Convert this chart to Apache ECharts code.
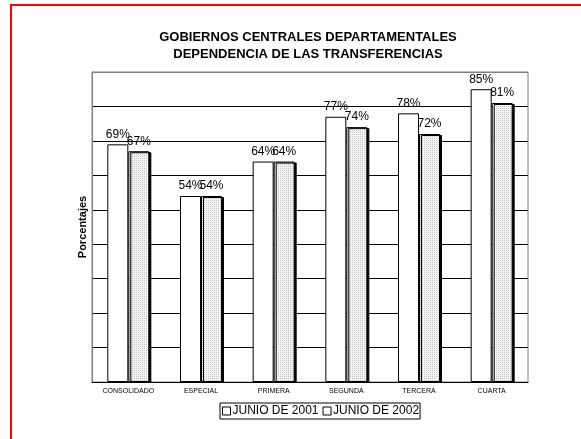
<!DOCTYPE html>
<html>
<head>
<meta charset="utf-8">
<script src="https://cdn.jsdelivr.net/npm/echarts@6/dist/echarts.min.js"></script>
<style>
  html, body { margin: 0; padding: 0; background: #fff; }
  #main { width: 581px; height: 439px; position: absolute; left: 0; top: 0; }
  #frame { position: absolute; left: 10px; top: 4px; width: 600px; height: 460px;
           border-left: 2px solid #ff0000; border-top: 2px solid #ff0000; pointer-events: none; }
</style>
</head>
<body>
<div id="main"></div>
<div id="frame"></div>
<script>
// Datos del gráfico
var categorias = ['CONSOLIDADO', 'ESPECIAL', 'PRIMERA', 'SEGUNDA', 'TERCERA', 'CUARTA'];
var junio2001 = [69, 54, 64, 77, 78, 85];
var junio2002 = [67, 54, 64, 74, 72, 81];
var series = ['JUNIO DE 2001', 'JUNIO DE 2002'];

// trama punteada para la segunda serie
var pat = document.createElement('canvas');
pat.width = 2; pat.height = 2;
var pctx = pat.getContext('2d');
pctx.fillStyle = '#f4f4f4';
pctx.fillRect(0, 0, 2, 2);
pctx.fillStyle = '#c4c4c4';
pctx.fillRect(0, 0, 1, 1);

var fuente = 'Liberation Sans, Arial, sans-serif';

var chartDom = document.getElementById('main');
var myChart = echarts.init(chartDom);
var option;

option = {
  animation: false,
  title: {
    text: 'GOBIERNOS CENTRALES DEPARTAMENTALES\nDEPENDENCIA DE LAS TRANSFERENCIAS',
    left: 308,
    top: 29,
    padding: 0,
    textAlign: 'center',
    textStyle: { fontFamily: fuente, fontSize: 13, fontWeight: 'bold', color: '#000', lineHeight: 17 }
  },
  legend: {
    data: [
      { name: series[0], itemStyle: { color: '#fff', borderColor: '#000', borderWidth: 1 } },
      { name: series[1], itemStyle: { color: '#fff', borderColor: '#000', borderWidth: 1 } }
    ],
    left: 220,
    top: 403,
    padding: [2, 1, 2, 2],
    itemGap: 4,
    itemWidth: 8,
    itemHeight: 8,
    borderColor: '#000',
    borderWidth: 1,
    icon: 'rect',
    textStyle: { fontFamily: fuente, fontSize: 12, color: '#000', padding: [0, -3, 0, -3] }
  },
  grid: {
    left: 92,
    top: 72,
    right: 53,
    bottom: 57,
    show: true,
    borderColor: '#808080',
    borderWidth: 1
  },
  xAxis: {
    type: 'category',
    data: categorias,
    axisLine: { lineStyle: { color: '#000', width: 1 } },
    axisTick: { length: 3, lineStyle: { color: '#000' } },
    axisLabel: { fontFamily: fuente, fontSize: 7, color: '#000', margin: 6 }
  },
  yAxis: {
    type: 'value',
    min: 0,
    max: 90,
    interval: 10,
    name: 'Porcentajes',
    nameLocation: 'middle',
    nameGap: 4,
    nameTextStyle: { fontFamily: fuente, fontSize: 11, fontWeight: 'bold', color: '#000' },
    axisLine: { show: true, lineStyle: { color: '#808080' } },
    axisTick: { show: false },
    axisLabel: { show: false },
    splitLine: { lineStyle: { color: ['#808080', '#000', '#000', '#000', '#000', '#000', '#000', '#000', '#000', '#808080'], width: 1 } }
  },
  series: [
    {
      name: series[0],
      type: 'bar',
      data: junio2001,
      barWidth: 21,
      barGap: '0%',
      itemStyle: { color: '#fff', borderColor: '#000', borderWidth: 1 },
      label: { show: true, position: 'top', distance: 4, formatter: '{c}%',
               fontFamily: fuente, fontSize: 12, color: '#000' }
    },
    {
      name: series[1],
      type: 'bar',
      data: junio2002,
      barWidth: 21,
      itemStyle: { color: { image: pat, repeat: 'repeat' }, borderColor: '#000', borderWidth: 1,
                   shadowColor: '#000', shadowOffsetX: 2, shadowOffsetY: 1, shadowBlur: 0 },
      label: { show: true, position: 'top', distance: 4, formatter: '{c}%',
               fontFamily: fuente, fontSize: 12, color: '#000' }
    }
  ]
};

option && myChart.setOption(option);
</script>
</body>
</html>
